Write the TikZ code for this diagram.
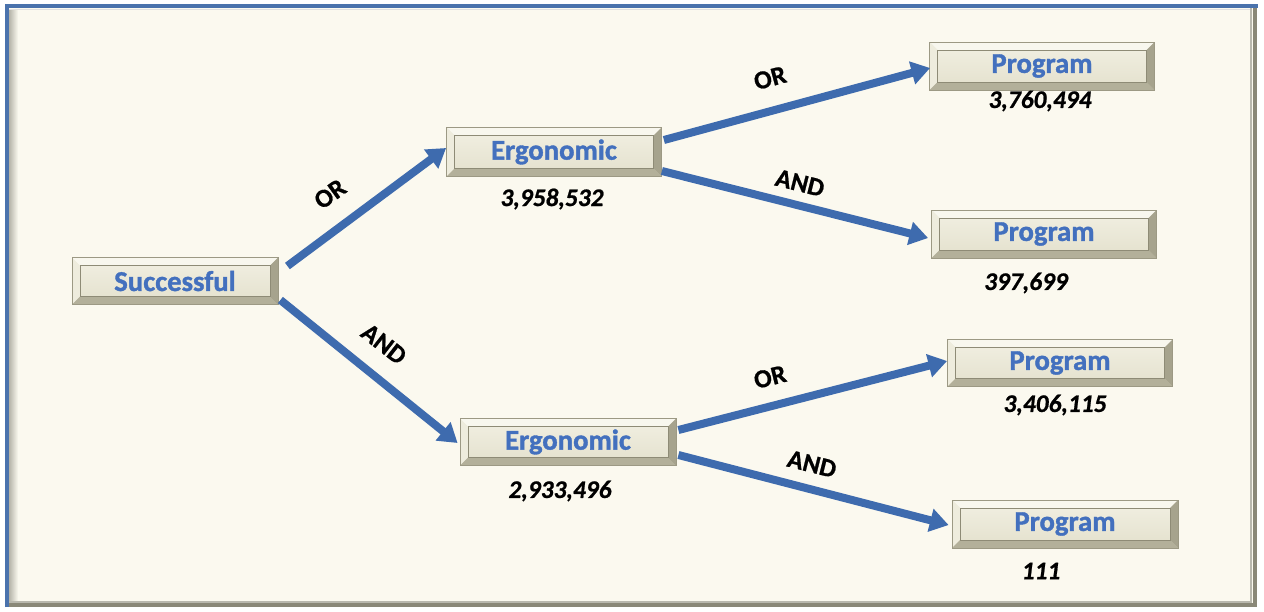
\documentclass[tikz,border=0pt]{standalone}
\usepackage{fontspec}
\setmainfont{Carlito}
\newfontfamily\heavyfont{Carlito Bold}[FakeBold=1.3]
\newfontfamily\heavyitfont{Carlito Bold Italic}[FakeBold=0.8]
\newfontfamily\labelfont{Carlito Bold}[FakeBold=0.8]
\usetikzlibrary{arrows.meta,calc}
\definecolor{bgcream}{HTML}{FBF9EF}
\definecolor{frameblue}{HTML}{4A72AC}
\definecolor{framegray}{HTML}{8A8878}
\definecolor{boxedge}{HTML}{9C9984}
\definecolor{facetop}{HTML}{F2F0E3}
\definecolor{facebot}{HTML}{E3E0CC}
\definecolor{bevtop}{HTML}{F8F7EE}
\definecolor{bevleft}{HTML}{EEECDD}
\definecolor{bevbot}{HTML}{B3B09A}
\definecolor{bevright}{HTML}{A6A38D}
\definecolor{innerline}{HTML}{8E8B76}
\definecolor{boxblue}{HTML}{4370BE}
\definecolor{arrowblue}{HTML}{3E6BAE}
\tikzset{
  bevelbox/.style={rectangle, draw=boxedge, line width=0.6pt,
    top color=facetop, bottom color=facebot, inner sep=0pt,
    font=\heavyfont\fontsize{21.5}{24}\selectfont, text=boxblue,
    path picture={
      \coordinate (pSW) at (path picture bounding box.south west);
      \coordinate (pNE) at (path picture bounding box.north east);
      \coordinate (pNW) at (pSW|-pNE);
      \coordinate (pSE) at (pNE|-pSW);
      \fill[bevtop] (pNW) -- (pNE) -- ([shift={(-6pt,-6pt)}]pNE) -- ([shift={(6pt,-6pt)}]pNW) -- cycle;
      \fill[bevleft] (pNW) -- ([shift={(6pt,-6pt)}]pNW) -- ([shift={(6pt,6pt)}]pSW) -- (pSW) -- cycle;
      \fill[bevbot] (pSW) -- ([shift={(6pt,6pt)}]pSW) -- ([shift={(-6pt,6pt)}]pSE) -- (pSE) -- cycle;
      \fill[bevright] (pSE) -- ([shift={(-6pt,6pt)}]pSE) -- ([shift={(-6pt,-6pt)}]pNE) -- (pNE) -- cycle;
      \draw[innerline, line width=0.5pt] ([shift={(6pt,6pt)}]pSW) rectangle ([shift={(-6pt,-6pt)}]pNE);
    }},
  numlabel/.style={font=\heavyitfont\fontsize{19}{22}\selectfont, text=black, inner sep=0pt},
  oplabel/.style={font=\labelfont\fontsize{19.5}{22}\selectfont, text=black, inner sep=0pt},
  arr/.style={draw=arrowblue, line width=6pt, -{Triangle[length=14pt,width=17pt]}}
}
\begin{document}
\begin{tikzpicture}[x=0.75pt,y=-0.75pt]
\useasboundingbox (0,0) rectangle (1264,611);
% frame
\fill[white] (0,0) rectangle (1264,611);
\fill[bgcream] (5,5) rectangle (1257,606);
\shade[left color=framegray!70, right color=bgcream] (8,9) rectangle (18,603);
\draw[black!12, line width=0.75pt] (9,9.5) -- (1252,9.5);
\draw[framegray!60, line width=1.5pt] (1251,8) -- (1251,602) -- (8,602);
\draw[framegray, line width=3pt] (1255,6) -- (1255,605) -- (6,605);
\draw[frameblue, line width=3pt] (6.5,607) -- (6.5,6) -- (1258,6);
% boxes
\node[bevelbox, minimum width=154.5pt, minimum height=35.25pt] (succ) at (175,281) {Successful};
\node[bevelbox, minimum width=161.25pt, minimum height=36.75pt] (erg1) at (554,152) {Ergonomic};
\node[bevelbox, minimum width=162pt, minimum height=35.25pt] (erg2) at (568,442) {Ergonomic};
\node[bevelbox, minimum width=168.75pt, minimum height=36pt] (p1) at (1042,66) {Program};
\node[bevelbox, minimum width=168.75pt, minimum height=36pt] (p2) at (1044,234) {Program};
\node[bevelbox, minimum width=168.75pt, minimum height=35.25pt] (p3) at (1060,363) {Program};
\node[bevelbox, minimum width=169.5pt, minimum height=36pt] (p4) at (1065,524) {Program};
% numbers
\node[numlabel] (n1) at (552,199) {3,958,532};
\node[numlabel] (n2) at (560,491) {2,933,496};
\node[numlabel] (n3) at (1040,101) {3,760,494};
\node[numlabel] (n4) at (1026,283) {397,699};
\node[numlabel] (n5) at (1055,405) {3,406,115};
\node[numlabel] (n6) at (1041,571) {111};
% connectors
\draw[arr] ([shift={(9,-15)}]succ.east) -- ([shift={(0,-4)}]erg1.west);
\draw[arr] ([shift={(2,19)}]succ.east) -- ([shift={(-2,1)}]erg2.west);
\draw[arr] ([shift={(2,-12)}]erg1.east) -- ([shift={(1,2)}]p1.west);
\draw[arr] ([shift={(0,19)}]erg1.east) -- ([shift={(-3,4)}]p2.west);
\draw[arr] ([shift={(2,-12)}]erg2.east) -- ([shift={(0,-2)}]p3.west);
\draw[arr] ([shift={(2,13)}]erg2.east) -- ([shift={(-3,1)}]p4.west);
% operator labels
\node[oplabel, rotate=36] (l1) at (330,194) {OR};
\node[oplabel, rotate=-38] (l2) at (384,344) {AND};
\node[oplabel, rotate=15] (l3) at (770,78) {OR};
\node[oplabel, rotate=-14] (l4) at (800,183) {AND};
\node[oplabel, rotate=14] (l5) at (770,377) {OR};
\node[oplabel, rotate=-14] (l6) at (812,464) {AND};
\end{tikzpicture}
\end{document}
